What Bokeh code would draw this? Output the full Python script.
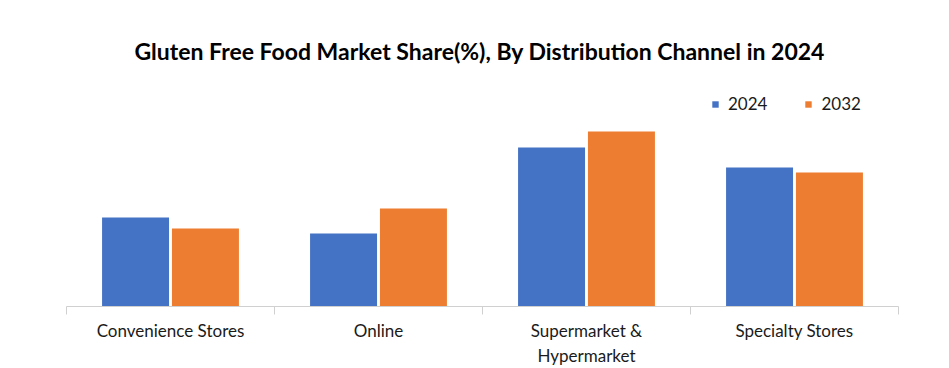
from bokeh.plotting import figure
from bokeh.models import Range1d, FixedTicker, ColumnDataSource, Legend, LegendItem
from bokeh.transform import dodge
from bokeh.embed import file_html
from bokeh.resources import INLINE

title_text = "Gluten Free Food  Market Share(%), By Distribution Channel in 2024"
categories = ["Convenience Stores", "Online", "Supermarket &\nHypermarket", "Specialty Stores"]
share_2024 = [17.8, 14.6, 31.8, 27.8]
share_2032 = [15.6, 19.6, 35.0, 26.8]
series_names = ["2024", "2032"]
colors = ["#4472C4", "#ED7D31"]

pos = [i + 0.5 for i in range(len(categories))]
src = ColumnDataSource(dict(x=pos, a=share_2024, b=share_2032))

p = figure(width=949, height=368, output_backend="svg", toolbar_location=None,
           x_range=Range1d(0, len(categories)), y_range=Range1d(0, 45.2),
           min_border_left=66, min_border_right=51, min_border_bottom=62, min_border_top=80)
p.title.text = title_text
p.title.align = "center"
p.title.vertical_align = "middle"
p.title.text_font = "Lato"
p.title.text_font_size = "23px"
p.title.text_font_style = "bold"
p.title.text_color = "#000000"
p.title.standoff = 30

r1 = p.vbar(x=dodge("x", -0.168, range=p.x_range), top="a", width=0.322, source=src,
            color=colors[0], line_color=None)
r2 = p.vbar(x=dodge("x", 0.168, range=p.x_range), top="b", width=0.322, source=src,
            color=colors[1], line_color=None)

legend = Legend(items=[LegendItem(label=series_names[0], renderers=[r1]),
                       LegendItem(label=series_names[1], renderers=[r2])],
                orientation="horizontal", location=(645, 192),
                glyph_width=8, glyph_height=8, label_standoff=9, spacing=37,
                padding=0, margin=0, border_line_color=None, background_fill_alpha=0,
                label_text_font="Lato", label_text_font_size="17px", label_text_color="#1a1a1a")
p.add_layout(legend)

ax = p.xaxis[0]
ax.ticker = FixedTicker(ticks=pos, minor_ticks=list(range(len(categories) + 1)))
ax.major_label_overrides = {pp: c for pp, c in zip(pos, categories)}
ax.major_tick_line_color = None
ax.minor_tick_in = 0
ax.minor_tick_out = 8
ax.minor_tick_line_color = "#d0d0d0"
ax.axis_line_color = "#d0d0d0"
ax.major_label_standoff = 5
ax.major_label_text_font = "Lato"
ax.major_label_text_font_size = "17px"
ax.major_label_text_color = "#1a1a1a"

p.yaxis.visible = False
p.xgrid.visible = False
p.ygrid.visible = False
p.outline_line_color = None

open("out.html", "w").write(file_html(p, INLINE))
